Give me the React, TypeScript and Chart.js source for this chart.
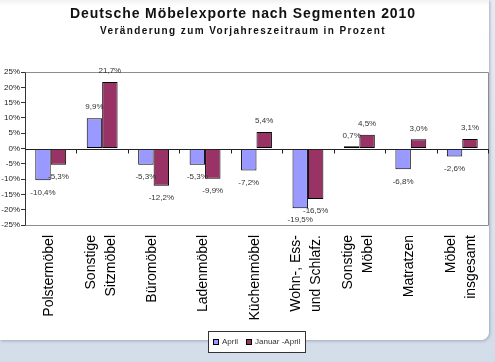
import React, { useEffect, useRef } from "react";
import { Chart, registerables } from "chart.js";

Chart.register(...registerables);

const FONT = 'Arial, "Liberation Sans", sans-serif';

const titleText = "Deutsche Möbelexporte nach Segmenten 2010";
const subtitleText = "Veränderung zum Vorjahreszeitraum in Prozent";

const categories: string[][] = [
  ["Polstermöbel"],
  ["Sonstige", "Sitzmöbel"],
  ["Büromöbel"],
  ["Ladenmöbel"],
  ["Küchenmöbel"],
  ["Wohn-, Ess-", "und Schlafz."],
  ["Sonstige", "Möbel"],
  ["Matratzen"],
  ["Möbel", "insgesamt"],
];

const seriesNames = ["April", "Januar -April"];
const aprilValues = [-10.4, 9.9, -5.3, -5.3, -7.2, -19.5, 0.7, -6.8, -2.6];
const janAprValues = [-5.3, 21.7, -12.2, -9.9, 5.4, -16.5, 4.5, 3.0, 3.1];
const seriesColors = ["#9999FF", "#993366"];

const yMin = -25;
const yMax = 25;
const yStep = 5;

const fmt = (v: number) => v.toFixed(1).replace(".", ",") + "%";

const decorPlugin = {
  id: "decor",
  beforeDatasetsDraw(chart: any) {
    const { ctx, chartArea } = chart;
    ctx.save();
    ctx.strokeStyle = "#8c8c8c";
    ctx.lineWidth = 1;
    ctx.beginPath();
    ctx.moveTo(Math.round(chartArea.left) + 0.5, Math.round(chartArea.top) + 0.5);
    ctx.lineTo(Math.round(chartArea.right) + 0.5, Math.round(chartArea.top) + 0.5);
    ctx.lineTo(Math.round(chartArea.right) + 0.5, Math.round(chartArea.bottom) + 0.5);
    ctx.lineTo(Math.round(chartArea.left) + 0.5, Math.round(chartArea.bottom) + 0.5);
    ctx.stroke();
    ctx.restore();
  },
  afterDatasetsDraw(chart: any) {
    const { ctx } = chart;
    const xScale = chart.scales.x;
    const yScale = chart.scales.y;
    const y0 = Math.round(yScale.getPixelForValue(0)) + 0.5;
    ctx.save();
    ctx.strokeStyle = "#222";
    ctx.lineWidth = 1;
    ctx.beginPath();
    ctx.moveTo(xScale.left, y0);
    ctx.lineTo(xScale.right + 1, y0);
    const n = categories.length;
    const cw = (xScale.right - xScale.left) / n;
    for (let i = 1; i <= n; i++) {
      const x = Math.round(xScale.left + i * cw) + 0.5;
      ctx.moveTo(x, y0);
      ctx.lineTo(x, y0 + 4);
    }
    ctx.stroke();

    // data labels
    ctx.font = `8px ${FONT}`;
    ctx.fillStyle = "#333";
    ctx.textAlign = "center";
    ctx.textBaseline = "middle";
    chart.data.datasets.forEach((ds: any, di: number) => {
      const meta = chart.getDatasetMeta(di);
      meta.data.forEach((bar: any, i: number) => {
        const v = ds.data[i];
        const y = v >= 0 ? bar.y - 11 : bar.y + 12;
        ctx.fillText(fmt(v), bar.x, y);
      });
    });

    // category labels (rotated, multi-line centred on category)
    ctx.font = `14px ${FONT}`;
    ctx.fillStyle = "#000";
    ctx.textAlign = "right";
    ctx.textBaseline = "middle";
    const lineH = 20;
    const top = xScale.top + 10;
    categories.forEach((lines, i) => {
      const cx = xScale.getPixelForValue(i) - 1.5;
      lines.forEach((line, j) => {
        const lx = cx + (j - (lines.length - 1) / 2) * lineH;
        ctx.save();
        ctx.translate(lx, top);
        ctx.rotate(-Math.PI / 2);
        ctx.fillText(line, 0, 0);
        ctx.restore();
      });
    });
    ctx.restore();
  },
  afterDraw(chart: any) {
    const { ctx, chartArea } = chart;
    ctx.save();
    ctx.fillStyle = "#111";
    ctx.textAlign = "center";
    ctx.textBaseline = "alphabetic";
    ctx.font = `bold 14px ${FONT}`;
    (ctx as any).letterSpacing = "0.9px";
    ctx.fillText(titleText, 243, 18);
    ctx.font = `bold 10px ${FONT}`;
    (ctx as any).letterSpacing = "1.4px";
    ctx.fillText(subtitleText, 243, 34);
    (ctx as any).letterSpacing = "0px";

    // legend
    ctx.font = `8px ${FONT}`;
    const box = 6;
    const gapText = 3;
    const gapItem = 8;
    const pad = 5;
    const widths = seriesNames.map((s) => ctx.measureText(s).width);
    let total = 0;
    widths.forEach((w, i) => {
      total += box + gapText + w + (i < widths.length - 1 ? gapItem : 0);
    });
    const bw = Math.round(total + pad * 2);
    const bh = 21;
    const cx = (chartArea.left + chartArea.right) / 2;
    const bx = Math.round(cx - bw / 2);
    const by = 331;
    ctx.fillStyle = "#fff";
    ctx.fillRect(bx, by, bw, bh);
    ctx.strokeStyle = "#333";
    ctx.lineWidth = 1;
    ctx.strokeRect(bx + 0.5, by + 0.5, bw, bh);
    let x = bx + pad;
    const cy = by + bh / 2 + 0.5;
    ctx.textAlign = "left";
    ctx.textBaseline = "middle";
    seriesNames.forEach((s, i) => {
      ctx.fillStyle = seriesColors[i];
      ctx.fillRect(x, Math.round(cy - box / 2), box, box);
      ctx.strokeStyle = "#000";
      ctx.strokeRect(x + 0.5, Math.round(cy - box / 2) + 0.5, box - 1, box - 1);
      x += box + gapText;
      ctx.fillStyle = "#333";
      ctx.fillText(s, x, cy);
      x += widths[i] + gapItem;
    });
    ctx.restore();
  },
};

export default function App() {
  const ref = useRef<HTMLCanvasElement | null>(null);
  useEffect(() => {
    if (!ref.current) return;
    const chart = new Chart(ref.current, {
      type: "bar",
      data: {
        labels: categories,
        datasets: [
          {
            label: seriesNames[0],
            data: aprilValues,
            backgroundColor: seriesColors[0],
            borderColor: "#000",
            borderWidth: 1,
            borderSkipped: false,
            categoryPercentage: 0.6,
            barPercentage: 1,
          },
          {
            label: seriesNames[1],
            data: janAprValues,
            backgroundColor: seriesColors[1],
            borderColor: "#000",
            borderWidth: 1,
            borderSkipped: false,
            categoryPercentage: 0.6,
            barPercentage: 1,
          },
        ],
      },
      options: {
        responsive: false,
        animation: false,
        layout: { padding: { top: 72, right: 7, bottom: 31, left: 0 } },
        plugins: {
          legend: { display: false },
          title: { display: false },
          tooltip: { enabled: false },
        },
        scales: {
          x: {
            grid: { display: false, drawTicks: false },
            border: { display: false },
            ticks: { display: false },
            afterFit: (scale: any) => {
              scale.height = 106;
              scale.paddingLeft = 0;
              scale.paddingRight = 0;
            },
          },
          y: {
            min: yMin,
            max: yMax,
            ticks: {
              stepSize: yStep,
              padding: 1,
              color: "#222",
              font: { family: FONT, size: 8 },
              callback: (v: any) => v + "%",
            },
            grid: {
              drawOnChartArea: false,
              drawTicks: true,
              tickLength: 4,
              color: "#333",
            },
            border: { display: true, color: "#333" },
            afterFit: (scale: any) => {
              scale.width = 25;
            },
          },
        },
      },
      plugins: [decorPlugin],
    });
    return () => chart.destroy();
  }, []);

  return (
    <div
      style={{
        position: "fixed",
        left: 0,
        top: 0,
        width: 495,
        height: 362,
        background: "linear-gradient(#e6ebf2, #d3dce9)",
        overflow: "hidden",
      }}
    >
      <div
        style={{
          position: "absolute",
          left: 0,
          top: 0,
          width: 489,
          height: 340,
          background: "linear-gradient(#f2f2f2 0px, #ffffff 6px)",
          borderBottomRightRadius: 8,
          boxShadow: "1px 1px 3px rgba(120,135,160,0.6)",
        }}
      />
      <canvas
        ref={ref}
        width={495}
        height={362}
        style={{ position: "absolute", left: 0, top: 0, width: 495, height: 362 }}
      />
    </div>
  );
}
